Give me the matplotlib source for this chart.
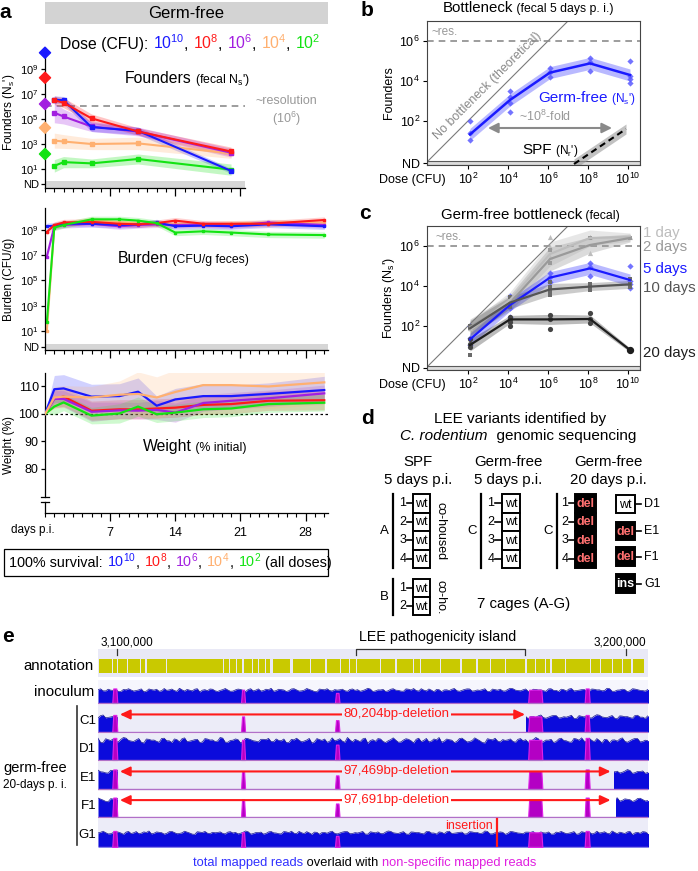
import numpy as np
import matplotlib
matplotlib.use("Agg")
import matplotlib.pyplot as plt
from matplotlib.patches import Rectangle
from matplotlib.ticker import FixedLocator

plt.rcParams['font.family'] = ['Liberation Sans', 'DejaVu Sans']
plt.rcParams['mathtext.fontset'] = 'custom'
plt.rcParams['mathtext.rm'] = 'Liberation Sans'
plt.rcParams['mathtext.it'] = 'Liberation Sans:italic'
plt.rcParams['mathtext.bf'] = 'Liberation Sans:bold'
plt.rcParams['mathtext.default'] = 'regular'
plt.rcParams['axes.linewidth'] = 0.9

# ------------------------------------------------------------------ data
dose_exp = [10, 8, 6, 4, 2]
dose_colors = ['#1a1aff', '#ff1a1a', '#a21fe0', '#ffb070', '#13e313']
inoculum_log = [10.3, 8.3, 6.2, 4.3, 2.2]

# panel a: founders (log10)
founder_days = [1, 2, 5, 10, 20]
founders_1e10 = [6.55, 6.5, 4.35, 4.05, 0.85]
founders_1e8 = [6.5, 6.3, 5.05, 4.0, 2.4]
founders_1e6 = [5.5, 5.2, 4.4, 4.0, 2.3]
founders_1e4 = [3.27, 3.2, 3.0, 3.05, 2.25]
founders_1e2 = [1.25, 1.55, 1.45, 1.8, 0.95]
founders_sd_1e10 = [0.3, 0.3, 0.35, 0.3, 0.2]
founders_sd_1e8 = [0.35, 0.4, 0.35, 0.3, 0.35]
founders_sd_1e6 = [0.8, 0.6, 0.4, 0.35, 0.35]
founders_sd_1e4 = [0.6, 0.55, 0.45, 0.5, 0.4]
founders_sd_1e2 = [0.5, 0.45, 0.35, 0.4, 0.45]

# panel a: burden (log10 CFU/g)
burden_days = [0.2, 1, 2, 5, 8, 10, 12, 14, 17, 20, 24, 30]
burden_1e10 = [9.3, 9.35, 9.5, 9.5, 9.4, 9.45, 9.6, 9.3, 9.35, 9.3, 9.45, 9.3]
burden_1e8 = [8.85, 9.4, 9.6, 9.65, 9.5, 9.45, 9.55, 9.75, 9.5, 9.5, 9.5, 9.8]
burden_1e6 = [6.9, 9.3, 9.4, 9.5, 9.3, 9.4, 9.45, 9.4, 9.45, 9.35, 9.6, 9.4]
burden_1e4 = [1.0, 9.3, 9.45, 9.8, 9.6, 9.55, 9.5, 9.5, 9.45, 9.5, 9.6, 9.6]
burden_1e2 = [1.7, 9.2, 9.4, 9.85, 9.85, 9.75, 9.55, 8.8, 8.9, 8.8, 8.65, 8.6]

# panel a: weight (% initial)
weight_days = [0, 1, 2, 5, 8, 10, 12, 14, 17, 20, 24, 30]
weight_1e10 = [100, 109, 109.3, 106.3, 106.5, 108.1, 103, 105.3, 106.5, 106.5, 107.3, 108.7]
weight_1e8 = [100, 105.7, 106.3, 101.2, 101.7, 101.7, 102, 102.3, 103.3, 103.6, 104.8, 105]
weight_1e6 = [100, 105.5, 105.5, 100.8, 101.3, 101.2, 101.5, 100.5, 104, 104.8, 105.7, 107.5]
weight_1e4 = [100, 106, 106.3, 106, 107, 107.3, 106, 108, 110.5, 110.5, 110, 111.5]
weight_1e2 = [100, 102.7, 104.2, 99.4, 100.2, 102.7, 99.9, 100.5, 101.7, 102, 103.6, 104.1]
weight_sd_1e10 = [0, 5, 5, 4.5, 4.5, 5, 3.5, 4, 4.5, 4, 4, 5]
weight_sd_1e8 = [0, 3.5, 3.5, 3.5, 3.5, 3.5, 3.5, 3.5, 3.5, 3.5, 3.5, 3.5]
weight_sd_1e6 = [0, 3, 3, 3.5, 3, 3, 3.5, 3.5, 3, 3, 3, 3]
weight_sd_1e4 = [0, 4, 4, 4, 5, 8, 7.5, 8, 8, 8, 8, 8]
weight_sd_1e2 = [0, 3, 3, 3, 3.5, 3.5, 3, 3, 3, 3, 3, 3]

# panel b: germ-free bottleneck 5 days p.i.
b_dose = [2.1, 4.1, 6.1, 8.1, 10.1]
b_gf5_mean = [1.33, 3.05, 4.42, 4.88, 4.3]
b_rep_dose = [2.1, 2.1, 2.1, 4.1, 4.1, 4.1, 4.1, 6.1, 6.1, 6.1, 8.1, 8.1, 8.1, 10.1, 10.1, 10.1, 10.1]
b_rep_founders = [2.0, 1.38, 1.05, 3.5, 3.2, 2.9, 2.47, 4.63, 4.47, 4.18, 5.13, 4.95, 4.5, 5.0, 4.25, 4.08, 3.9]
spf_dose = [7.3, 9.9]
spf_founders = [-0.15, 1.6]

# panel c: germ-free bottleneck over time
c_labels = ['1 day', '2 days', '5 days', '10 days', '20 days']
c_colors = ['#bdbdbd', '#9a9a9a', '#1a1aff', '#555555', '#1e1e1e']
c_1d = [1.8, 3.3, 5.6, 6.4, 6.45]
c_2d = [1.95, 3.15, 5.35, 6.05, 6.4]
c_5d = [1.33, 3.05, 4.42, 4.88, 4.3]
c_10d = [1.88, 3.17, 3.83, 3.97, 4.08]
c_20d = [1.05, 2.33, 2.33, 2.35, 0.8]
c_band_1d = [0.4, 0.4, 0.6, 0.4, 0.2]
c_band_2d = [0.4, 0.4, 0.6, 0.4, 0.2]
c_band_5d = [0.3, 0.3, 0.3, 0.3, 0.3]
c_band_10d = [0.4, 0.3, 0.3, 0.2, 0.2]
c_band_20d = [0.3, 0.2, 0.25, 0.2, 0.1]
c1_rep_dose = [2.1, 4.1, 6.1, 6.1, 6.1, 8.1, 8.1, 10.1]
c1_rep = [1.9, 3.4, 6.47, 5.97, 5.47, 6.47, 5.63, 6.43]
c2_rep_dose = [2.1, 4.1, 6.1, 6.1, 8.1, 10.1]
c2_rep = [1.95, 3.1, 5.8, 5.13, 6.38, 6.4]
c10_rep_dose = [2.1, 2.1, 2.1, 4.1, 4.1, 4.1, 6.1, 6.1, 6.1, 6.1, 8.1, 8.1, 8.1, 10.1, 10.1, 10.1]
c10_rep = [2.0, 1.9, 0.55, 3.47, 3.2, 2.97, 4.2, 3.95, 3.7, 3.55, 4.1, 3.97, 3.8, 4.33, 4.1, 3.97]
c20_rep_dose = [2.1, 2.1, 2.1, 4.1, 4.1, 4.1, 4.1, 6.1, 6.1, 6.1, 8.1, 8.1, 8.1, 10.1]
c20_rep = [1.33, 1.1, 0.93, 2.47, 2.33, 2.0, 2.2, 2.55, 2.33, 1.83, 2.63, 2.35, 2.13, 0.8]

# panel d: LEE variants
d_spf_A = ['wt', 'wt', 'wt', 'wt']
d_spf_B = ['wt', 'wt']
d_gf5_C = ['wt', 'wt', 'wt', 'wt']
d_gf20_C = ['del', 'del', 'del', 'del']
d_gf20_mice = ['D1', 'E1', 'F1', 'G1']
d_gf20_variants = ['wt', 'del', 'del', 'ins']

# panel e: genome coverage (positions in kb)
genome_start_kb = 3096.3
genome_end_kb = 3204.35
gene_blocks_kb = [(3096.5, 3099.05), (3099.25, 3100.03), (3100.2, 3102.0), (3102.2, 3104.55),
                  (3104.75, 3105.5), (3105.9, 3109.66), (3109.86, 3120.86), (3121.05, 3122.0),
                  (3122.2, 3123.4), (3123.6, 3124.6), (3125.0, 3126.56), (3126.75, 3127.7),
                  (3127.9, 3129.1), (3129.3, 3130.1), (3130.7, 3134.0), (3134.6, 3137.95),
                  (3138.15, 3140.9), (3141.3, 3143.85), (3144.0, 3145.6), (3145.8, 3147.0),
                  (3147.2, 3151.7), (3151.9, 3154.65), (3155.05, 3158.2), (3158.4, 3159.6),
                  (3159.8, 3163.5), (3163.7, 3167.4), (3167.8, 3170.6), (3171.0, 3173.3),
                  (3173.5, 3176.3), (3176.5, 3180.2), (3180.6, 3182.2), (3182.35, 3184.1),
                  (3184.3, 3185.1), (3185.5, 3188.05), (3188.25, 3192.95), (3193.15, 3194.9),
                  (3195.1, 3197.3), (3197.5, 3199.25), (3199.45, 3201.0), (3201.4, 3203.55)]
lee_island_kb = (3147.0, 3180.2)
peak_centers_kb = [3099.6, 3124.8, 3143.3, 3182.2, 3192.4]
peak_widths_kb = [1.0, 0.8, 0.9, 2.8, 1.0]
peak_rel_height = [1.15, 1.05, 0.8, 1.05, 1.15]
track_names = ['inoculum', 'C1', 'D1', 'E1', 'F1', 'G1']
track_levels = [0.55, 0.55, 0.74, 0.63, 0.65, 0.5]
track_amp = [0.1, 0.1, 0.14, 0.1, 0.1, 0.08]
coverage_profile = [0.3, -0.2, 0.5, 0.0, -0.5, 0.4, 0.7, -0.3, 0.2, -0.6,
                    0.6, 0.1, -0.4, 0.8, 0.2, -0.1, 0.9, -0.3, 0.1, 0.5,
                    -0.7, 0.3, 0.6, -0.2, 0.0, 0.8, -0.4, 0.2, 0.4, -0.6,
                    0.7, 0.1, -0.3, 0.5, 0.9, -0.1, 0.3, -0.5, 0.6, 0.2,
                    -0.2, 0.8, 0.0, -0.6, 0.4, 0.7, -0.3, 0.1, 0.5, -0.4,
                    0.6, 0.3, -0.1, 0.9, -0.5, 0.2, 0.4, -0.2, 0.7, 0.0,
                    -0.4, 0.5, 0.8, -0.3, 0.1, 0.6, -0.6, 0.3, 0.2, -0.1,
                    0.8, -0.4, 0.4, 0.6, -0.2, 0.0, 0.7, -0.5, 0.3, 0.5,
                    -0.3, 0.9, 0.1, -0.2, 0.6, -0.6, 0.4, 0.2, -0.4, 0.7,
                    0.0, 0.5, -0.3, 0.8, -0.1, 0.3, -0.5, 0.6, 0.2, -0.2,
                    0.9, -0.4, 0.1, 0.5, -0.6, 0.7, 0.3, -0.1, 0.4]
deletions_kb = {'C1': (3100.2, 3180.4), 'E1': (3100.2, 3197.7), 'F1': (3100.2, 3198.0)}
deletion_arrows_kb = {'C1': (3100.6, 3180.2), 'E1': (3100.6, 3197.0), 'F1': (3100.6, 3197.0)}
deletion_labels = {'C1': '80,204bp-deletion', 'E1': '97,469bp-deletion', 'F1': '97,691bp-deletion'}
insertion_kb = 3174.7

# ------------------------------------------------------------------ figure
W, H = 698, 871
fig = plt.figure(figsize=(W / 100, H / 100), dpi=100)


def px_axes(l, t, r, b):
    ax = fig.add_axes([l / W, 1 - b / H, (r - l) / W, (b - t) / H])
    ax.patch.set_alpha(0)
    return ax


def e(n):
    return r'$10^{%d}$' % n


# overlay axes in pixel coordinates for annotations
axo = fig.add_axes([0, 0, 1, 1])
axo.set_xlim(0, W)
axo.set_ylim(H, 0)
axo.axis('off')
axo.set_zorder(10)


def seq_text(x, y, pieces):
    r = fig.canvas.get_renderer()
    for s, kw in pieces:
        t = axo.text(x, y, s, ha='left', va='baseline', **kw)
        bb = t.get_window_extent(renderer=r)
        x = axo.transData.inverted().transform((bb.x1, bb.y0))[0]


def time_axis(ax, xmax, major, labels=False):
    ax.set_xlim(0, xmax)
    ax.set_xticks(major)
    ax.xaxis.set_minor_locator(FixedLocator(np.arange(0, int(xmax) + 1)))
    ax.tick_params(axis='x', which='major', length=6, width=0.9, labelsize=9, pad=4)
    ax.tick_params(axis='x', which='minor', length=3, width=0.8)
    if not labels:
        ax.set_xticklabels([])
    for s in ['top', 'right']:
        ax.spines[s].set_visible(False)
    ax.tick_params(axis='y', length=3, width=0.9, labelsize=8, pad=1.5)


# ----------------------------------------------------------- panel a
founders = [founders_1e10, founders_1e8, founders_1e6, founders_1e4, founders_1e2]
founders_sd = [founders_sd_1e10, founders_sd_1e8, founders_sd_1e6, founders_sd_1e4, founders_sd_1e2]
ax_f = px_axes(45, 48, 245, 188)
ax_f.set_ylim(-0.52, 10.68)
ax_f.axhspan(-0.52, 0.04, color='#d6d6d6', lw=0, zorder=0)
ax_f.axhline(6.07, color='#8c8c8c', ls=(0, (4, 3)), lw=1.2, zorder=1)
for vals, sd, c in zip(founders, founders_sd, dose_colors):
    v, s = np.array(vals), np.array(sd)
    ax_f.fill_between(founder_days, v - s, v + s, color=c, alpha=0.25, lw=0)
for i in [4, 3, 2, 0, 1]:
    ax_f.plot(founder_days, founders[i], color=dose_colors[i], lw=1.5, marker='s', ms=2.2)
ax_f.scatter([0] * 5, inoculum_log, marker='D', s=32, c=dose_colors, clip_on=False, zorder=6)
ax_f.set_yticks([-0.24, 1, 3, 5, 7, 9])
ax_f.set_yticklabels(['ND', e(1), e(3), e(5), e(7), e(9)])
time_axis(ax_f, 21.5, [7, 14, 21])

burdens = [burden_1e10, burden_1e8, burden_1e6, burden_1e4, burden_1e2]
ax_bd = px_axes(45, 208, 328, 350)
ax_bd.set_ylim(-0.52, 10.75)
ax_bd.axhspan(-0.52, -0.05, color='#d6d6d6', lw=0, zorder=0)
for vals, c in zip(burdens, dose_colors):
    v = np.array(vals)
    ax_bd.fill_between(burden_days, v - 0.25, v + 0.25, color=c, alpha=0.2, lw=0)
for i in [3, 2, 0, 1, 4]:
    ax_bd.plot(burden_days, burdens[i], color=dose_colors[i], lw=1.5, marker='s', ms=2)
ax_bd.set_yticks([-0.29, 1, 3, 5, 7, 9])
ax_bd.set_yticklabels(['ND', e(1), e(3), e(5), e(7), e(9)])
time_axis(ax_bd, 30.4, [7, 14, 21, 28])

weights = [weight_1e10, weight_1e8, weight_1e6, weight_1e4, weight_1e2]
weights_sd = [weight_sd_1e10, weight_sd_1e8, weight_sd_1e6, weight_sd_1e4, weight_sd_1e2]
ax_w = px_axes(45, 373, 328, 513)
ax_w.set_ylim(64, 114.9)
ax_w.axhline(100, color='k', ls=(0, (2, 2)), lw=0.9, zorder=1)
for i in [1, 2, 0, 4, 3]:
    v, s = np.array(weights[i]), np.array(weights_sd[i])
    ax_w.fill_between(weight_days, v - s, v + s, color=dose_colors[i], alpha=0.2, lw=0)
    ax_w.plot(weight_days, v, color=dose_colors[i], lw=1.6, zorder=3)
ax_w.set_yticks([80, 90, 100, 110])
time_axis(ax_w, 30.4, [7, 14, 21, 28], labels=True)
ax_w.tick_params(axis='y', labelsize=9)
ax_w.spines['left'].set_bounds(69.8, 114.9)
ax_w.plot([0, 0], [64, 68.0], color='k', lw=0.9, clip_on=False)
axo.plot([41, 49], [497, 497], color='k', lw=0.9)
axo.plot([41, 49], [502, 502], color='k', lw=0.9)

# panel a texts
axo.text(5, 13, 'a', fontsize=15, fontweight='bold', ha='center', va='center')
axo.add_patch(Rectangle((45, 2), 283, 22, fc='#d3d3d3', ec='none'))
axo.text(186, 13.5, 'Germ-free', fontsize=12, ha='center', va='center')
pieces = [('Dose (CFU): ', dict(fontsize=11.3))]
for k, (n, c) in enumerate(zip(dose_exp, dose_colors)):
    pieces.append((e(n), dict(fontsize=11.3, color=c)))
    if k < 4:
        pieces.append((', ', dict(fontsize=11.3)))
seq_text(60, 49, pieces)
seq_text(125, 83, [('Founders', dict(fontsize=11.3)), (" (fecal N$_s$')", dict(fontsize=8.8))])
axo.text(286, 101, '~resolution', fontsize=9, color='#999999', ha='center', va='center')
axo.text(286, 119, '(' + e(6) + ')', fontsize=9, color='#999999', ha='center', va='center')
seq_text(118, 263, [('Burden', dict(fontsize=11.3)), (' (CFU/g feces)', dict(fontsize=8.8))])
seq_text(143, 451, [('Weight', dict(fontsize=11.3)), (' (% initial)', dict(fontsize=8.8))])
axo.text(9, 112, "Founders (N$_s$')", fontsize=8.5, rotation=90, ha='center', va='center')
axo.text(9, 279, 'Burden (CFU/g)', fontsize=8.5, rotation=90, ha='center', va='center')
axo.text(9, 445, 'Weight (%)', fontsize=8.5, rotation=90, ha='center', va='center')
axo.text(11, 530, 'days p.i.', fontsize=8.5, ha='left', va='center')
axo.add_patch(Rectangle((4, 549), 324, 27, fc='none', ec='k', lw=0.9))
pieces = [('100% survival: ', dict(fontsize=10.4))]
for k, (n, c) in enumerate(zip(dose_exp, dose_colors)):
    pieces.append((e(n), dict(fontsize=10.4, color=c)))
    pieces.append((', ' if k < 4 else ' (all doses)', dict(fontsize=10.4)))
seq_text(9, 567, pieces)


# ----------------------------------------------------------- panels b, c
def bottleneck_axes(ax):
    ax.set_xlim(-0.05, 10.6)
    ax.set_ylim(-0.2, 7)
    ax.axhspan(-0.2, 0.0, fc='#dcdcdc', ec='#5a5a5a', lw=0.8, zorder=0)
    ax.plot([-0.2, 7.3], [-0.2, 7.3], color='#7a7a7a', lw=0.8, zorder=1)
    ax.axhline(6, color='#8c8c8c', ls=(0, (4, 3)), lw=1.2, zorder=1)
    ax.set_xticks([2, 4, 6, 8, 10])
    ax.set_xticklabels([e(n) for n in [2, 4, 6, 8, 10]])
    ax.set_yticks([-0.1, 2, 4, 6])
    ax.set_yticklabels(['ND', e(2), e(4), e(6)])
    ax.tick_params(length=3, width=0.8, labelsize=9, pad=2)
    for sp in ax.spines.values():
        sp.set_color('#444444')
        sp.set_linewidth(0.8)


ax_bn = px_axes(427, 21, 640, 165)
bottleneck_axes(ax_bn)
m = np.array(b_gf5_mean)
ax_bn.fill_between(b_dose, m - 0.3, m + 0.3, color='#1a1aff', alpha=0.3, lw=0)
ax_bn.plot(b_dose, m, color='#1a1aff', lw=1.8)
ax_bn.scatter(b_rep_dose, b_rep_founders, marker='D', s=10, color='#5a5aff', alpha=0.85, lw=0)
sf = np.array(spf_founders)
ax_bn.fill_between(spf_dose, sf - 0.25, sf + 0.25, color='#9a9a9a', alpha=0.6, lw=0)
ax_bn.plot(spf_dose, sf, color='k', ls=(0, (3, 2)), lw=1.5)
ax_bn.annotate('', xy=(9.2, 1.65), xytext=(3.0, 1.65),
               arrowprops=dict(arrowstyle='<|-|>,head_length=0.6,head_width=0.3', color='#8a8a8a',
                               lw=1.5, shrinkA=0, shrinkB=0))
ax_bn.text(3.0, 3.75, 'No bottleneck (theoretical)', rotation=45, fontsize=9, color='#8a8a8a',
           ha='center', va='center')

axo.text(367, 11, 'b', fontsize=15, fontweight='bold', ha='center', va='center')
seq_text(443, 12, [('Bottleneck', dict(fontsize=10.8)), (' (fecal 5 days p. i.)', dict(fontsize=8.8))])
axo.text(432, 32, '~res.', fontsize=8.5, color='#999999', ha='left', va='center')
axo.text(389, 93, 'Founders', fontsize=9, rotation=90, ha='center', va='center')
axo.text(412, 180, 'Dose (CFU)', fontsize=9, ha='center', va='center')
seq_text(538, 102, [('Germ-free', dict(fontsize=11, color='#1a1aff')),
                    (" (N$_s$')", dict(fontsize=8.5, color='#1a1aff'))])
seq_text(522, 154, [('SPF', dict(fontsize=11)), (" (N$_r$')", dict(fontsize=8.5))])
seq_text(519, 121, [('~' + e(8) + '-fold', dict(fontsize=9, color='#999999'))])

ax_c = px_axes(427, 226, 640, 370)
bottleneck_axes(ax_c)
c_means = [c_1d, c_2d, c_5d, c_10d, c_20d]
c_bands = [c_band_1d, c_band_2d, c_band_5d, c_band_10d, c_band_20d]
c_alpha = [0.35, 0.35, 0.3, 0.3, 0.3]
for mv, bw, col, al in zip(c_means, c_bands, c_colors, c_alpha):
    mv, bw = np.array(mv), np.array(bw)
    ax_c.fill_between(b_dose, mv - bw, mv + bw, color=col, alpha=al, lw=0)
ax_c.scatter(c1_rep_dose, c1_rep, marker='^', s=14, color=c_colors[0], lw=0)
ax_c.scatter(c2_rep_dose, c2_rep, marker='s', s=12, color=c_colors[1], lw=0)
ax_c.scatter(b_rep_dose, b_rep_founders, marker='D', s=10, color='#5a5aff', alpha=0.85, lw=0)
ax_c.scatter(c10_rep_dose, c10_rep, marker='s', s=12, color='#6a6a6a', lw=0)
ax_c.scatter(c20_rep_dose, c20_rep, marker='o', s=14, color='#444444', lw=0)
for mv, col in zip(c_means, c_colors):
    ax_c.plot(b_dose, mv, color=col, lw=1.6)
ax_c.scatter([b_dose[-1]], [c_20d[-1]], marker='o', s=18, color='#1e1e1e', zorder=5)

axo.text(365, 213, 'c', fontsize=15, fontweight='bold', ha='center', va='center')
seq_text(441, 219, [('Germ-free bottleneck', dict(fontsize=10.8)), (' (fecal)', dict(fontsize=8.8))])
axo.text(435, 237, '~res.', fontsize=8.5, color='#999999', ha='left', va='center')
axo.text(389, 298, "Founders (N$_s$')", fontsize=9, rotation=90, ha='center', va='center')
axo.text(412, 385, 'Dose (CFU)', fontsize=9, ha='center', va='center')
for lab, col, yy in zip(c_labels, c_colors, [233, 247, 269, 288, 353]):
    axo.text(643, yy, lab, fontsize=10.8, color=col, ha='left', va='center')

# ----------------------------------------------------------- panel d
axo.text(368, 418, 'd', fontsize=15, fontweight='bold', ha='center', va='center')
axo.text(520, 419, 'LEE variants identified by', fontsize=11, ha='center', va='center')
seq_text(400, 440, [('C. rodentium', dict(fontsize=11, style='italic')),
                    ('  genomic sequencing', dict(fontsize=11))])
for xc, l1, l2 in [(418, 'SPF', '5 days p.i.'), (508, 'Germ-free', '5 days p.i.'),
                   (608, 'Germ-free', '20 days p.i.')]:
    axo.text(xc, 462, l1, fontsize=10.8, ha='center', va='center')
    axo.text(xc, 480, l2, fontsize=10.8, ha='center', va='center')


def cell(x0, x1, y0, y1, variant):
    dark = variant != 'wt'
    axo.add_patch(Rectangle((x0, y0), x1 - x0, y1 - y0, fc='k' if dark else 'white',
                            ec='k', lw=1.4))
    tc = {'wt': 'k', 'del': '#ff7070', 'ins': 'white'}[variant]
    axo.text((x0 + x1) / 2, (y0 + y1) / 2 + 0.5, variant, fontsize=9, color=tc,
             ha='center', va='center', fontweight='bold' if dark else 'normal')


def cage(variants, cage_label, bx, numx, dash, box, y0, ch):
    n = len(variants)
    axo.plot([bx, bx], [y0, y0 + n * ch], color='k', lw=1.6)
    axo.text(bx - 9, y0 + n * ch / 2, cage_label, fontsize=9.5, ha='center', va='center')
    for i, v in enumerate(variants):
        yc = y0 + (i + 0.5) * ch
        axo.text(numx, yc, str(i + 1), fontsize=9, ha='center', va='center')
        axo.plot(dash, [yc, yc], color='k', lw=1.2)
        cell(box[0], box[1], y0 + i * ch, y0 + (i + 1) * ch, v)


cage(d_spf_A, 'A', 393, 403, [407, 413], (413, 430), 494, 18.5)
cage(d_spf_B, 'B', 393, 403, [407, 413], (413, 430), 579, 18)
cage(d_gf5_C, 'C', 481, 491, [495, 502], (502, 520), 494, 18.5)
cage(d_gf20_C, 'C', 557, 565, [569, 575], (575, 596), 494, 18.5)
axo.text(440, 531, 'co-housed', fontsize=9, rotation=270, ha='center', va='center')
axo.text(440, 597, 'co-ho.', fontsize=9, rotation=270, ha='center', va='center')
for (y0, y1), mouse, v in zip([(495, 513), (522, 540), (547, 566), (574, 593)],
                              d_gf20_mice, d_gf20_variants):
    cell(616, 635, y0, y1, v)
    axo.plot([635, 641], [(y0 + y1) / 2] * 2, color='k', lw=1.2)
    axo.text(644, (y0 + y1) / 2, mouse, fontsize=9, ha='left', va='center')
axo.text(524, 604, '7 cages (A-G)', fontsize=10.8, ha='center', va='center')

# ----------------------------------------------------------- panel e
axo.text(8, 636, 'e', fontsize=15, fontweight='bold', ha='center', va='center')
ax_e = px_axes(98, 630, 648, 847)
ax_e.set_xlim(genome_start_kb, genome_end_kb)
ax_e.set_ylim(847, 630)
ax_e.axis('off')
span = genome_end_kb - genome_start_kb
ax_e.add_patch(Rectangle((genome_start_kb, 649), span, 28, fc='#e9e9f6', ec='none'))
ax_e.broken_barh([(a, b - a) for a, b in gene_blocks_kb], (659, 14), fc='#c9c900', ec='none')
for tk in [3100.0, 3200.0]:
    ax_e.plot([tk, tk], [649, 655], color='#333333', lw=0.9)
ax_e.plot([lee_island_kb[0], lee_island_kb[0], lee_island_kb[1], lee_island_kb[1]],
          [655, 649, 649, 655], color='#333333', lw=0.9)
axo.text(127, 642, '3,100,000', fontsize=8.5, ha='center', va='center')
axo.text(620, 642, '3,200,000', fontsize=8.5, ha='center', va='center')
axo.text(438, 637, 'LEE pathogenicity island', fontsize=10.3, ha='center', va='center')
axo.text(94, 666, 'annotation', fontsize=10.8, ha='right', va='center')

track_rows = [(680, 703), (705, 732), (734, 760), (762, 789), (791, 817), (819, 847)]
track_bg = ['#f6f6fd', '#ececf8', '#ececf8', '#ececf8', '#ffffff', '#ececf8']
track_shift = [0, 17, 33, 51, 68, 85]
prof = np.array(coverage_profile)
n_prof = len(prof)
# half-kb grid: alternate the profile with a shifted copy for finer texture
grid = genome_start_kb + np.arange(2 * n_prof) * 0.5
for k, name in enumerate(track_names):
    top, bot = track_rows[k]
    hh = bot - top
    ax_e.add_patch(Rectangle((genome_start_kb, top), span, hh, fc=track_bg[k], ec='none'))
    p1 = np.roll(prof, track_shift[k])
    p2 = np.roll(prof, track_shift[k] + 47)
    fine = np.empty(2 * n_prof)
    fine[0::2] = p1
    fine[1::2] = 0.8 * p2
    hcov = hh * (track_levels[k] + track_amp[k] * fine)
    ax_e.fill_between(grid, bot, bot - hcov, color='#0b0bdc', lw=0)
    ax_e.plot(grid, bot - hcov, color='#1a1a90', lw=0.5)
    if name in deletions_kb:
        d0, d1 = deletions_kb[name]
        ax_e.add_patch(Rectangle((d0, top), d1 - d0, hh, fc=track_bg[k], ec='none', zorder=2.5))
    for c, w, f in zip(peak_centers_kb, peak_widths_kb, peak_rel_height):
        ph = hh * track_levels[k] * f
        xs = [c - w / 2, c - w / 2 + 0.2, c + w / 2 - 0.2, c + w / 2]
        ax_e.fill_between(xs, bot, [bot, bot - ph, bot - ph, bot], fc='#b400c4', ec='#e020e8',
                          lw=0.8, zorder=3)
    ax_e.plot([genome_start_kb, genome_end_kb], [bot, bot], color='#b070c8', lw=1.0, zorder=3.5)
    if name in deletion_arrows_kb:
        a0, a1 = deletion_arrows_kb[name]
        ya = top + 0.35 * hh
        ax_e.annotate('', xy=(a1, ya), xytext=(a0, ya), zorder=4,
                      arrowprops=dict(arrowstyle='<|-|>,head_length=0.6,head_width=0.28',
                                      color='#ff1a1a', lw=1.5, shrinkA=0, shrinkB=0))
        ax_e.text(3155.0, ya, deletion_labels[name], fontsize=9.5, color='#ff1a1a', ha='center',
                  va='center', zorder=5,
                  bbox=dict(fc=track_bg[k], ec='none', pad=1.0))
    lab_x = 94 if name == 'inoculum' else 96
    axo.text(lab_x, (top + bot) / 2 + (0 if name == 'inoculum' else 2), name,
             fontsize=10.8 if name == 'inoculum' else 9.5, ha='right', va='center')
g_top, g_bot = track_rows[-1]
ax_e.plot([insertion_kb, insertion_kb], [g_top, g_bot], color='#ff1a1a', lw=1.6, zorder=5)
ax_e.text(insertion_kb - 0.8, g_top + 7, 'insertion', fontsize=9, color='#ff1a1a',
          ha='right', va='center', zorder=5)
axo.plot([77, 77], [706, 845], color='#333333', lw=1.2)
axo.text(35, 768, 'germ-free', fontsize=10.5, ha='center', va='center')
axo.text(35, 785, '20-days p. i.', fontsize=8.5, ha='center', va='center')
seq_text(193, 866, [('total mapped reads', dict(fontsize=9.3, color='#3030ff')),
                    (' overlaid with ', dict(fontsize=9.3)),
                    ('non-specific mapped reads', dict(fontsize=9.3, color='#e020e0'))])

fig.savefig('out.png', dpi=100)
